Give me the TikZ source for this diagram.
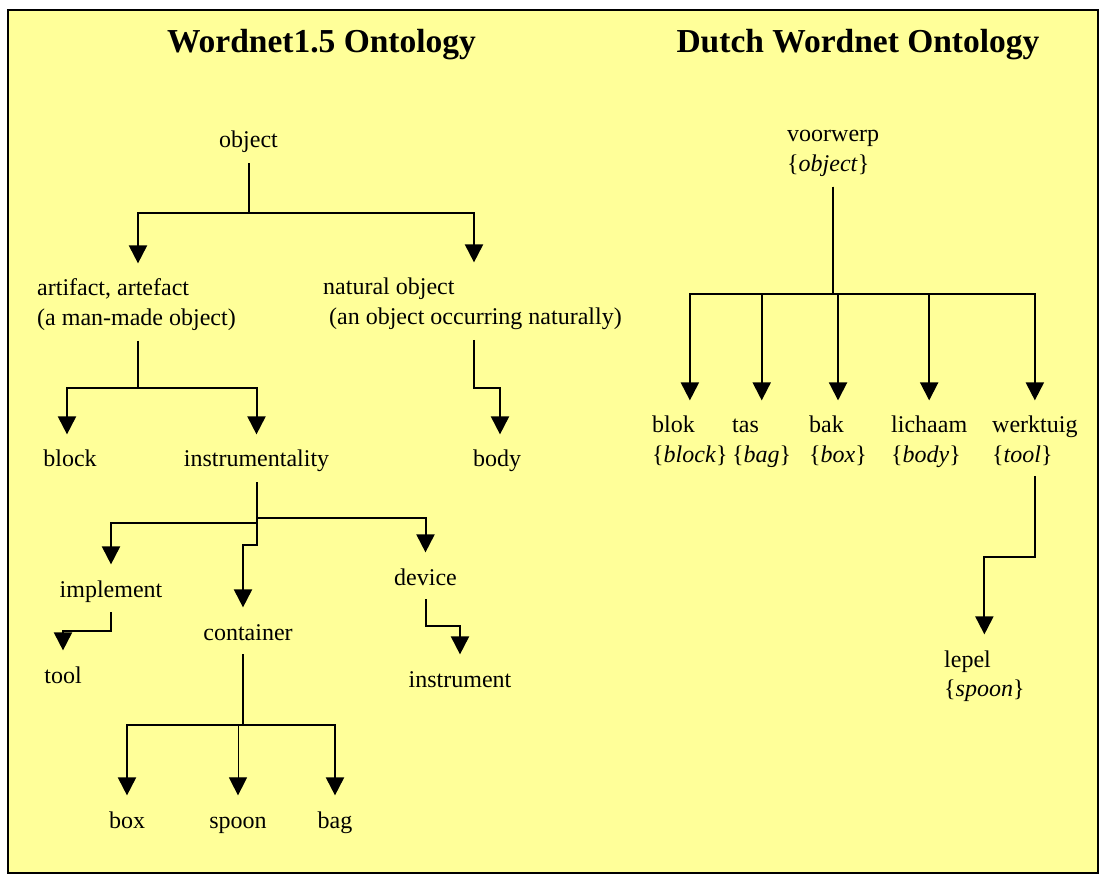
\documentclass[tikz,border=0pt]{standalone}
\usepackage{fontspec}
\setmainfont{Liberation Serif}
\usepackage{tikz}
\usetikzlibrary{arrows.meta,calc}
\definecolor{paleyellow}{RGB}{255, 255, 153}
\newcommand{\twolines}[2]{\vtop{\hbox{#1}\hbox{#2}}}
\tikzset{
  term/.style={font=\fontsize{24}{29.5}\selectfont,inner sep=0pt,
               text height=16.4pt},
  heading/.style={font=\fontsize{33.5}{40}\selectfont\bfseries,inner sep=0pt},
  arr/.style={-{Triangle[length=18pt,width=18pt]},line width=2pt,
              shorten >=16pt,shorten <=10pt},
}

\begin{document}
\begin{tikzpicture}[x=1pt,y=-1pt]
        \useasboundingbox (0,0) rectangle (1101,874);
        \fill[white] (0,0) rectangle (1101,874);
        \draw[line width=2pt,fill=paleyellow] (8,10) rectangle (1098,873);
        % titles
        \node[heading,anchor=base] (wnTitle) at (321.5,53) {Wordnet1.5 Ontology};
        \node[heading,anchor=base] (dwnTitle) at (858,53) {Dutch Wordnet Ontology};
        % Wordnet1.5 tree
        \node[term,anchor=base] (object) at (248.5,148) {object};
        \node[term,anchor=base west] (artifact) at (37,296)
          {\twolines{artifact, artefact}{(a man-made object)}};
        \node[term,anchor=base west] (natural) at (323,295)
          {\twolines{natural object}{\hspace{0.25em}(an object occurring naturally)}};
        \node[term,anchor=base] (block) at (70,467) {block};
        \node[term,anchor=base] (instr) at (256.5,467) {instrumentality};
        \node[term,anchor=base] (body) at (497,467) {body};
        \node[term,anchor=base] (implement) at (111,597) {implement};
        \node[term,anchor=base] (container) at (248,640) {container};
        \node[term,anchor=base] (device) at (425.5,585) {device};
        \node[term,anchor=base] (tool) at (63,683) {tool};
        \node[term,anchor=base] (instrument) at (460,687) {instrument};
        \node[term,anchor=base] (box) at (127,828) {box};
        \node[term,anchor=base] (spoon) at (238,828) {spoon};
        \node[term,anchor=base] (bag) at (335,828) {bag};
        \coordinate (objJ) at (248.5,213);
        \coordinate (artJ) at (138,388);
        \coordinate (natJ) at (474,388);
        \coordinate (insJa) at (256.5,518);
        \coordinate (insJb) at (256.5,523);
        \coordinate (insJc) at (256.5,545);
        \coordinate (impJ) at (111,631);
        \coordinate (devJ) at (425.5,626);
        \coordinate (conJ) at (243,725);
        \draw[arr] (object.south) -- (object.south |- objJ) -| (artifact.north -| 138,0);
        \draw[arr] (object.south) -- (object.south |- objJ) -| (natural.north -| 474,0);
        \draw[arr] (artifact.south -| artJ) -- (artJ) -| (block.north -| 67,0);
        \draw[arr] (artifact.south -| artJ) -- (artJ) -| (instr.north);
        \draw[arr] (natural.south -| natJ) -- (natJ) -| (body.north -| 500,0);
        \draw[arr] (instr.south) -- (instr.south |- insJa) -| (device.north);
        \draw[arr] (instr.south) -- (instr.south |- insJb) -| (implement.north);
        \draw[arr] (instr.south) -- (instr.south |- insJc) -| (container.north -| 243,0);
        \draw[arr] (implement.south) -- (implement.south |- impJ) -| (tool.north);
        \draw[arr,shorten <=14pt] (device.south) -- (device.south |- devJ) -| (instrument.north);
        \draw[arr,shorten <=14pt] (container.south -| conJ) -- (conJ) -| (box.north);
        \draw[arr,shorten <=14pt,line width=1pt] (container.south -| conJ) -- (conJ) -| (spoon.north);
        \draw[arr,shorten <=14pt] (container.south -| conJ) -- (conJ) -| (bag.north);
        % Dutch Wordnet tree
        \node[term,anchor=base west] (voorwerp) at (787,142) {\twolines{voorwerp}{\{\textit{object}\}}};
        \node[term,anchor=base west] (blok) at (652,433) {\twolines{blok}{\{\textit{block}\}}};
        \node[term,anchor=base west] (tas) at (732,433) {\twolines{tas}{\{\textit{bag}\}}};
        \node[term,anchor=base west] (bak) at (809,433) {\twolines{bak}{\{\textit{box}\}}};
        \node[term,anchor=base west] (lichaam) at (891,433) {\twolines{lichaam}{\{\textit{body}\}}};
        \node[term,anchor=base west] (werktuig) at (992,433) {\twolines{werktuig}{\{\textit{tool}\}}};
        \node[term,anchor=base west] (lepel) at (944,667) {\twolines{lepel}{\{\textit{spoon}\}}};
        \coordinate (vwJ) at (834,294);
        \coordinate (wtJ) at (1034,557);
        \foreach \kid in {blok,tas,bak,lichaam,werktuig}
          \draw[arr] (voorwerp.south) -- (voorwerp.south |- vwJ) -| (\kid.north);
        \draw[arr] (werktuig.south) -- (werktuig.south |- wtJ) -| (lepel.north);
\end{tikzpicture}
\end{document}
